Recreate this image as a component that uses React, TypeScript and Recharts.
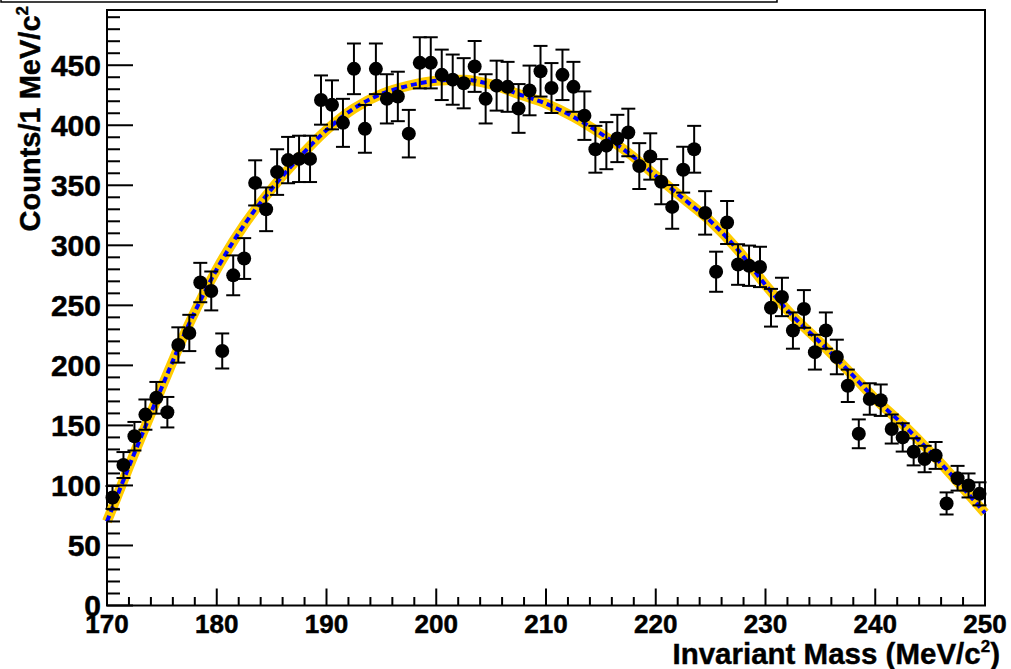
import React from 'react';
import { ComposedChart, ErrorBar, Line, ReferenceArea, Scatter, XAxis, YAxis } from 'recharts';

// histogram bin centres (MeV/c^2)
const BIN_CENTERS = [
  170.5, 171.5, 172.5, 173.5, 174.5, 175.5, 176.5, 177.5, 178.5, 179.5,
  180.5, 181.5, 182.5, 183.5, 184.5, 185.5, 186.5, 187.5, 188.5, 189.5,
  190.5, 191.5, 192.5, 193.5, 194.5, 195.5, 196.5, 197.5, 198.5, 199.5,
  200.5, 201.5, 202.5, 203.5, 204.5, 205.5, 206.5, 207.5, 208.5, 209.5,
  210.5, 211.5, 212.5, 213.5, 214.5, 215.5, 216.5, 217.5, 218.5, 219.5,
  220.5, 221.5, 222.5, 223.5, 224.5, 225.5, 226.5, 227.5, 228.5, 229.5,
  230.5, 231.5, 232.5, 233.5, 234.5, 235.5, 236.5, 237.5, 238.5, 239.5,
  240.5, 241.5, 242.5, 243.5, 244.5, 245.5, 246.5, 247.5, 248.5, 249.5,
];

// counts per bin
const COUNTS = [
  90, 117, 141, 159, 173, 161, 217, 227, 269, 262,
  212, 275, 289, 352, 330, 361, 371, 372, 372, 421,
  417, 402, 447, 397, 447, 422, 424, 393, 452, 452,
  442, 438, 435, 449, 422, 433, 432, 414, 429, 445,
  431, 442, 432, 408, 380, 383, 389, 394, 366, 374,
  353, 332, 363, 380, 327, 278, 319, 284, 283, 282,
  248, 257, 229, 247, 211, 229, 207, 183, 143, 172,
  171, 147, 140, 128, 122, 125, 85, 106, 100, 93,
];

// statistical errors per bin
const ERRORS = [
  9.5, 10.8, 11.9, 12.6, 13.2, 12.7, 14.7, 15.1, 16.4, 16.2,
  14.6, 16.6, 17.0, 18.8, 18.2, 19.0, 19.3, 19.3, 19.3, 20.5,
  20.4, 20.0, 21.1, 19.9, 21.1, 20.5, 20.6, 19.8, 21.3, 21.3,
  21.0, 20.9, 20.9, 21.2, 20.5, 20.8, 20.8, 20.3, 20.7, 21.1,
  20.8, 21.0, 20.8, 20.2, 19.5, 19.6, 19.7, 19.8, 19.1, 19.3,
  18.8, 18.2, 19.1, 19.5, 18.1, 16.7, 17.9, 16.9, 16.8, 16.8,
  15.7, 16.0, 15.1, 15.7, 14.5, 15.1, 14.4, 13.5, 12.0, 13.1,
  13.1, 12.1, 11.8, 11.3, 11.0, 11.2, 9.2, 10.3, 10.0, 9.6,
];

// fit curve samples
const FIT_X = [
  170, 172.5, 175, 177.5, 180, 182.5, 185, 187.5, 190, 192.5, 195, 197.5, 200, 202.5, 205, 207.5,
  210, 212.5, 215, 217.5, 220, 222.5, 225, 227.5, 230, 232.5, 235, 237.5, 240, 242.5, 245, 247.5, 250,
];
const FIT_Y = [
  70, 127, 182, 235, 280, 317, 347, 373, 396, 414, 426, 433, 437, 438, 434, 426,
  418, 407, 393, 377, 358, 339, 320, 296, 267, 241, 219, 196, 172, 151, 128, 103, 77,
];

const X_TICKS = [
  170, 172, 174, 176, 178, 180, 182, 184, 186, 188, 190, 192, 194, 196, 198, 200, 202, 204, 206, 208,
  210, 212, 214, 216, 218, 220, 222, 224, 226, 228, 230, 232, 234, 236, 238, 240, 242, 244, 246, 248, 250,
];
const Y_TICKS = [
  0, 10, 20, 30, 40, 50, 60, 70, 80, 90, 100, 110, 120, 130, 140, 150, 160, 170, 180, 190,
  200, 210, 220, 230, 240, 250, 260, 270, 280, 290, 300, 310, 320, 330, 340, 350, 360, 370, 380, 390,
  400, 410, 420, 430, 440, 450, 460, 470, 480, 490,
];

const FONT = '"Liberation Sans", Arial, Helvetica, sans-serif';

const points = BIN_CENTERS.map((x, i) => ({ x, y: COUNTS[i], err: ERRORS[i] }));
const fit = FIT_X.map((x, i) => ({ x, y: FIT_Y[i] }));

function XTick(props: any) {
  const { x, y, payload } = props;
  const v = payload.value;
  const major = v % 10 === 0;
  return (
    <g>
      <line x1={x} y1={y} x2={x} y2={y - (major ? 17 : 8.5)} stroke="#000" strokeWidth={2} />
      {major && (
        <text x={x} y={y + 27.5} textAnchor="middle" fontFamily={FONT} fontWeight="bold" fontSize={26}
          fill="#000" stroke="#000" strokeWidth={0.5}>
          {v}
        </text>
      )}
    </g>
  );
}

function YTick(props: any) {
  const { x, y, payload } = props;
  const v = payload.value;
  const major = v % 50 === 0;
  return (
    <g>
      <line x1={x} y1={y} x2={x + (major ? 26 : 13)} y2={y} stroke="#000" strokeWidth={2} />
      {major && (
        <text x={x - 6} y={y} dy="0.36em" textAnchor="end" fontFamily={FONT} fontWeight="bold" fontSize={30}
          fill="#000" stroke="#000" strokeWidth={0.5}>
          {v}
        </text>
      )}
    </g>
  );
}

const Marker = (props: any) => <circle cx={props.cx} cy={props.cy} r={7} fill="#000" />;

export default function App() {
  return (
    <div style={{ position: 'absolute', left: 0, top: 0, width: 1011, height: 669, background: '#fff' }}>
      <ComposedChart width={1011} height={669} margin={{ top: 10, right: 26, bottom: 62.5, left: 106 }}>
        <XAxis
          dataKey="x"
          type="number"
          domain={[170, 250]}
          ticks={X_TICKS}
          interval={0}
          height={1}
          tickSize={0}
          tickMargin={0}
          axisLine={false}
          tickLine={false}
          tick={(p: any) => <XTick {...p} />}
        />
        <YAxis
          dataKey="y"
          type="number"
          domain={[0, 496]}
          ticks={Y_TICKS}
          interval={0}
          width={1}
          tickSize={0}
          tickMargin={0}
          axisLine={false}
          tickLine={false}
          tick={(p: any) => <YTick {...p} />}
        />
        <ReferenceArea x1={170} x2={250} y1={0} y2={496} fill="none" stroke="#000" strokeWidth={2} />
        <Line data={fit} dataKey="y" type="monotone" stroke="#FFCC00" strokeWidth={10} dot={false} activeDot={false} isAnimationActive={false} />
        <Line data={fit} dataKey="y" type="monotone" stroke="#0000FF" strokeWidth={4} strokeDasharray="6 4" dot={false} activeDot={false} isAnimationActive={false} />
        <Scatter data={points} dataKey="y" shape={Marker} isAnimationActive={false}>
          <ErrorBar dataKey="err" direction="y" width={7} stroke="#000" strokeWidth={2} isAnimationActive={false} />
        </Scatter>
      </ComposedChart>
      <svg width={1011} height={669} style={{ position: 'absolute', left: 0, top: 0, pointerEvents: 'none' }}>
        <rect x={1} y={-6} width={776} height={8} fill="none" stroke="#000" strokeWidth={1.5} />
        <text x={1000} y={664} textAnchor="end" fontFamily={FONT} fontWeight="bold" fontSize={29.5}
          fill="#000" stroke="#000" strokeWidth={0.4}>
          Invariant Mass (MeV/c
          <tspan dy={-12} fontSize={17}>2</tspan>
          <tspan dy={12} fontSize={29.5}>)</tspan>
        </text>
        <text transform="translate(40,6) rotate(-90)" textAnchor="end" fontFamily={FONT} fontWeight="bold" fontSize={29}
          fill="#000" stroke="#000" strokeWidth={0.4}>
          Counts/1 MeV/c
          <tspan dy={-12} fontSize={17}>2</tspan>
        </text>
      </svg>
    </div>
  );
}
